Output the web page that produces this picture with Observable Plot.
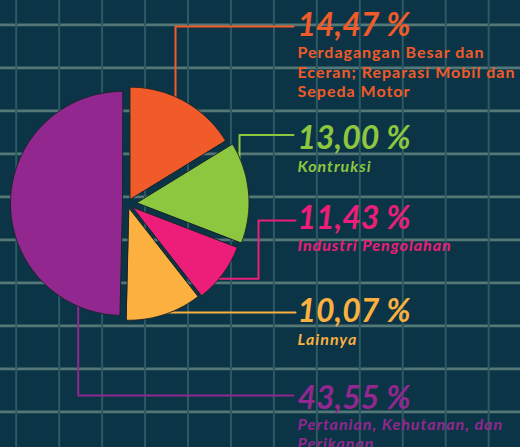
<!DOCTYPE html>
<html><head><meta charset="utf-8">
<script src="https://cdn.jsdelivr.net/npm/d3@7"></script>
<script src="https://cdn.jsdelivr.net/npm/@observablehq/plot@0.6"></script>
<style>
html,body{margin:0;padding:0;background:#0b3546;}
#chart{width:520px;height:447px;overflow:hidden}
</style></head><body><div id="chart"></div>
<script>
// ---- data ----
const sectors = [
  "Perdagangan Besar dan\nEceran; Reparasi Mobil dan\nSepeda Motor",
  "Kontruksi",
  "Industri Pengolahan",
  "Lainnya",
  "Pertanian, Kehutanan, dan\nPerikanan"
];
const percentLabels = ["14,47 %", "13,00 %", "11,43 %", "10,07 %", "43,55 %"];
const percentValues = [14.47, 13.00, 11.43, 10.07, 43.55];
// slice sizes as drawn in the picture (% of the full circle)
const sliceShares = [16.25, 14.58, 8.61, 10.92, 49.64];

// ---- style / layout ----
const W = 520, H = 447;
const colors = ["#f15a29", "#8dc63f", "#ed1e79", "#fbb040", "#92278f"];
const pie = {cx: 127, cy: 203, r: 112};
const explode = [5, 9.5, 6.5, 5, 5];
const gridX = d3.range(15.7, W, 42.95);
const gridY = d3.range(24.3, H, 43);
const labelX = 297;
const numberBaseline = [35, 148.3, 228, 321.7, 408.3];
const descTop = [44.3, 157.6, 237, 331, 416];
const leaderStart = [[40, 0.6], [85, 0.6], [135, 0.9], [162, 0.9], [250, 0.6]];
const leaderMoves = [
  [{x: 175}, {y: 26}, {x: 293}],
  [{x: 239}, {y: 134.5}, {x: 293}],
  [{x: 258}, {y: 220}, {x: 295}],
  [{y: 312}, {x: 295}],
  [{x: 77.7}, {y: 395}, {x: 293}]
];

// ---- geometry from data ----
const total = d3.sum(sliceShares);
const rad = a => a * Math.PI / 180;
let acc = 0;
const slicePts = [], apexes = [];
sliceShares.forEach((v, i) => {
  const a0 = acc / total * 360, a1 = (acc + v) / total * 360; acc += v;
  const mid = rad((a0 + a1) / 2);
  const ax = pie.cx + explode[i] * Math.sin(mid), ay = pie.cy - explode[i] * Math.cos(mid);
  apexes.push([ax, ay]);
  slicePts.push({i, x: ax, y: ay});
  const n = Math.max(2, Math.ceil((a1 - a0) * 2));
  for (let k = 0; k <= n; k++) {
    const a = rad(a0 + (a1 - a0) * k / n);
    slicePts.push({i, x: ax + pie.r * Math.sin(a), y: ay - pie.r * Math.cos(a)});
  }
});
const leaderPts = [];
leaderMoves.forEach((moves, i) => {
  const [ang, f] = leaderStart[i];
  let x = apexes[i][0] + f * pie.r * Math.sin(rad(ang));
  let y = apexes[i][1] - f * pie.r * Math.cos(rad(ang));
  leaderPts.push({i, x, y});
  moves.forEach(m => { if (m.x !== undefined) x = m.x; if (m.y !== undefined) y = m.y; leaderPts.push({i, x, y}); });
});

const idx = d3.range(sectors.length);
const font = "Lato";
const chart = Plot.plot({
  width: W, height: H, margin: 0,
  x: {domain: [0, W], range: [0, W], axis: null},
  y: {domain: [0, H], range: [0, H], axis: null},
  color: {domain: idx, range: colors, type: "ordinal"},
  style: {background: "#0b3546", overflow: "hidden"},
  marks: [
    Plot.ruleY(gridY, {stroke: "#557877", strokeWidth: 2.8}),
    Plot.ruleX(gridX, {stroke: "#2c5a62", strokeWidth: 2}),
    Plot.line(leaderPts, {x: "x", y: "y", z: "i", stroke: "i", strokeWidth: 2}),
    Plot.line(slicePts, {x: "x", y: "y", z: "i", fill: "i", stroke: "#1b2428", strokeWidth: 1, curve: "linear-closed"}),
    Plot.text(idx, {x: () => labelX, y: i => numberBaseline[i], text: i => percentLabels[i], fill: i => i,
      textAnchor: "start", lineAnchor: "bottom", fontSize: 32, fontStyle: "italic", fontWeight: "bold", fontFamily: font}),
    Plot.text([0], {x: () => labelX, y: i => descTop[i], text: i => sectors[i], fill: i => i,
      textAnchor: "start", lineAnchor: "top", lineHeight: 1.2, fontSize: 16, fontWeight: "bold", fontFamily: font}),
    Plot.text([1, 2, 3, 4], {x: () => labelX, y: i => descTop[i], text: i => sectors[i], fill: i => i,
      textAnchor: "start", lineAnchor: "top", lineHeight: 1.2, fontSize: 16, fontStyle: "italic", fontWeight: "bold", fontFamily: font})
  ]
});
// wider tracking for the description texts (Century-Gothic-like width)
d3.select(chart).selectAll("g[font-size='16'] text").style("letter-spacing", "1px");
document.getElementById("chart").appendChild(chart);
</script></body></html>
